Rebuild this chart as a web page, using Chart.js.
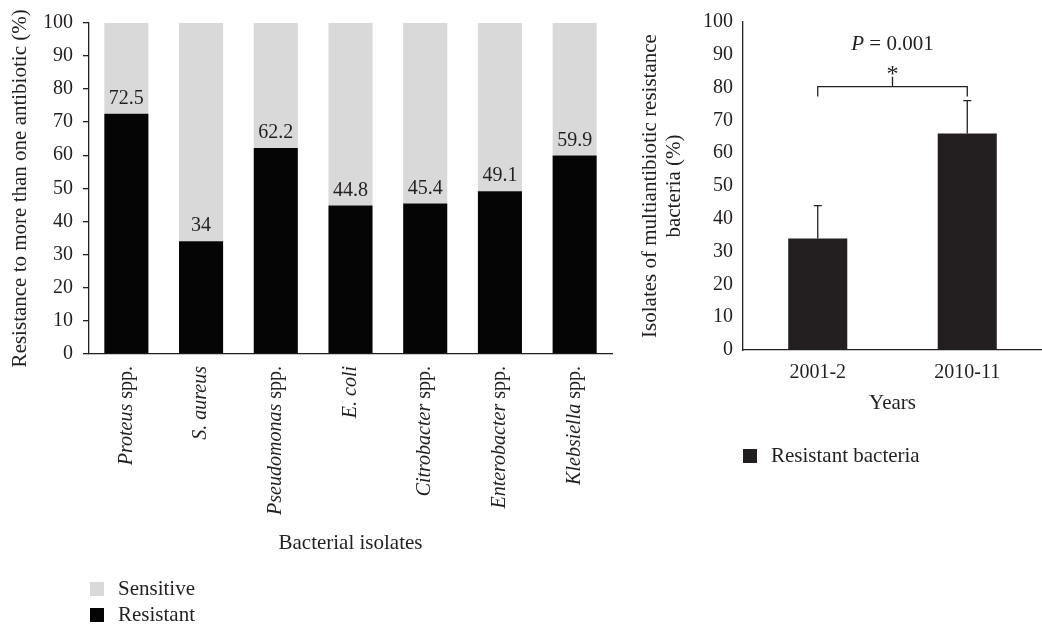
<!DOCTYPE html>
<html>
<head>
<meta charset="utf-8">
<script src="https://cdn.jsdelivr.net/npm/chart.js"></script>
<style>
  body { margin: 0; background: #fff; width: 1042px; height: 626px; position: relative; overflow: hidden; font-family: "Liberation Serif", serif; color: #231f20; }
  canvas { position: absolute; top: 0; }
  #left { left: 0; }
  #right { left: 630px; }
  .leg { position: absolute; font-size: 21px; line-height: 26px; white-space: nowrap; }
  .leg i { display: inline-block; width: 14px; height: 14px; vertical-align: -1px; margin-right: 14px; }
</style>
</head>
<body>
<canvas id="left" width="620" height="626"></canvas>
<canvas id="right" width="412" height="626"></canvas>
<div class="leg" style="left:90px; top:575px;"><i style="background:#d9d9d9"></i>Sensitive</div>
<div class="leg" style="left:90px; top:601px;"><i style="background:#050505"></i>Resistant</div>
<div class="leg" style="left:743px; top:442px;"><i style="background:#231f20"></i>Resistant bacteria</div>
<script>
// left chart: isolates resistant to more than one antibiotic
var isolates = ['Proteus spp.', 'S. aureus', 'Pseudomonas spp.', 'E. coli', 'Citrobacter spp.', 'Enterobacter spp.', 'Klebsiella spp.'];
var resistant = [72.5, 34, 62.2, 44.8, 45.4, 49.1, 59.9];
var sensitive = [27.5, 66, 37.8, 55.2, 54.6, 50.9, 40.1];

// right chart: multiantibiotic resistance by period
var years = ['2001-2', '2010-11'];
var resistantBacteria = [34, 66];
var resistantError = [10, 10];
var pValueText = '0.001';

var yTicks = [0, 10, 20, 30, 40, 50, 60, 70, 80, 90, 100];

var ink = '#231f20';
var serif = '"Liberation Serif", "Times New Roman", serif';

var barLabels = {
    id: 'barLabels',
    afterDatasetsDraw: (chart) => {
        const ctx = chart.ctx;
        const meta = chart.getDatasetMeta(0);
        ctx.save();
        ctx.fillStyle = ink;
        ctx.font = '20px ' + serif;
        ctx.textAlign = 'center';
        ctx.textBaseline = 'alphabetic';
        meta.data.forEach((bar, i) => {
            ctx.fillText(String(resistant[i]), bar.x, bar.y - 10);
        });
        ctx.restore();
    }
};

// category labels: genus in italics, "spp." upright
var isolateLabels = {
    id: 'isolateLabels',
    afterDraw: (chart) => {
        const ctx = chart.ctx;
        const xs = chart.scales.x;
        const top = chart.chartArea.bottom + 12;
        const it = 'italic 20px ' + serif;
        const up = '20px ' + serif;
        ctx.save();
        ctx.fillStyle = ink;
        ctx.textBaseline = 'middle';
        ctx.textAlign = 'left';
        isolates.forEach((name, i) => {
            let a = name, b = '';
            if (name.endsWith(' spp.')) {
                a = name.slice(0, -5);
                b = ' spp.';
            }
            ctx.font = it;
            const wa = ctx.measureText(a).width;
            ctx.font = up;
            const wb = ctx.measureText(b).width;
            ctx.save();
            ctx.translate(xs.getPixelForValue(i), top);
            ctx.rotate(-Math.PI / 2);
            ctx.font = it;
            ctx.fillText(a, -(wa + wb), 0);
            ctx.font = up;
            ctx.fillText(b, -wb, 0);
            ctx.restore();
        });
        ctx.restore();
    }
};

var chart_left = new Chart(document.getElementById('left'), {
    type: 'bar',
    data: {
        labels: isolates,
        datasets: [
            {
                label: 'Resistant',
                data: resistant,
                backgroundColor: '#050505',
                borderWidth: 0,
                barPercentage: 0.59,
                categoryPercentage: 1
            },
            {
                label: 'Sensitive',
                data: sensitive,
                backgroundColor: '#d9d9d9',
                borderWidth: 0,
                barPercentage: 0.59,
                categoryPercentage: 1
            }
        ]
    },
    options: {
        animation: false,
        responsive: false,
        layout: { padding: { left: 7.4, right: 8, top: 22.7, bottom: 70.4 } },
        plugins: {
            legend: { display: false },
            tooltip: { enabled: false }
        },
        scales: {
            x: {
                stacked: true,
                grid: { display: false },
                border: { display: true, color: ink, width: 1.3 },
                ticks: { display: false },
                title: {
                    display: true,
                    text: 'Bacterial isolates',
                    color: ink,
                    padding: 0,
                    font: { family: serif, size: 21, lineHeight: 1.2 }
                },
                afterFit: (s) => { s.height = 201.6; }
            },
            y: {
                stacked: true,
                min: 0,
                max: 100,
                afterBuildTicks: (s) => { s.ticks = yTicks.map(v => ({ value: v })); },
                ticks: { color: ink, padding: 10, font: { family: serif, size: 20 } },
                grid: { drawOnChartArea: false, drawTicks: true, tickLength: 6, color: ink, lineWidth: 1.3 },
                border: { display: true, color: ink, width: 1.3 },
                title: {
                    display: true,
                    text: 'Resistance to more than one antibiotic (%)',
                    color: ink,
                    padding: 0,
                    font: { family: serif, size: 21, lineHeight: 1.2 }
                },
                afterFit: (s) => { s.width = 81.6; }
            }
        }
    },
    plugins: [barLabels, isolateLabels]
});

// error bars, significance bracket and p value
var significance = {
    id: 'significance',
    afterDatasetsDraw: (chart) => {
        const ctx = chart.ctx;
        const xs = chart.scales.x, ys = chart.scales.y;
        ctx.save();
        ctx.strokeStyle = ink;
        ctx.fillStyle = ink;
        ctx.lineWidth = 1.3;
        resistantBacteria.forEach((v, i) => {
            const x = xs.getPixelForValue(i);
            const y0 = ys.getPixelForValue(v);
            const y1 = ys.getPixelForValue(v + resistantError[i]);
            ctx.beginPath();
            ctx.moveTo(x, y0);
            ctx.lineTo(x, y1);
            ctx.moveTo(x - 4, y1);
            ctx.lineTo(x + 4, y1);
            ctx.stroke();
        });
        const xa = xs.getPixelForValue(0), xb = xs.getPixelForValue(1);
        const xm = (xa + xb) / 2;
        const yLow = ys.getPixelForValue(77.3), yBar = ys.getPixelForValue(80.3), yTop = ys.getPixelForValue(83.3);
        ctx.beginPath();
        ctx.moveTo(xa, yLow);
        ctx.lineTo(xa, yBar);
        ctx.lineTo(xb, yBar);
        ctx.lineTo(xb, yLow);
        ctx.moveTo(xm, yBar);
        ctx.lineTo(xm, yTop);
        ctx.stroke();

        ctx.font = '24px ' + serif;
        ctx.textAlign = 'center';
        ctx.textBaseline = 'alphabetic';
        ctx.fillText('*', xm, ys.getPixelForValue(85.8) + 12);

        const it = 'italic 21px ' + serif, up = '21px ' + serif;
        const rest = ' = ' + pValueText;
        ctx.font = it;
        const wp = ctx.measureText('P').width;
        ctx.font = up;
        const wr = ctx.measureText(rest).width;
        const left = xm - (wp + wr) / 2;
        const yp = ys.getPixelForValue(93.2);
        ctx.textAlign = 'left';
        ctx.textBaseline = 'middle';
        ctx.font = it;
        ctx.fillText('P', left, yp);
        ctx.font = up;
        ctx.fillText(rest, left + wp, yp);
        ctx.restore();
    }
};

var chart_right = new Chart(document.getElementById('right'), {
    type: 'bar',
    data: {
        labels: years,
        datasets: [
            {
                label: 'Resistant bacteria',
                data: resistantBacteria,
                backgroundColor: ink,
                borderWidth: 0,
                barPercentage: 0.395,
                categoryPercentage: 1
            }
        ]
    },
    options: {
        animation: false,
        responsive: false,
        layout: { padding: { left: 8, right: 0, top: 18.3, bottom: 210.4 } },
        plugins: {
            legend: { display: false },
            tooltip: { enabled: false }
        },
        scales: {
            x: {
                grid: { display: false, drawTicks: false },
                border: { display: true, color: ink, width: 1.3 },
                ticks: { color: ink, padding: 11, font: { family: serif, size: 20, lineHeight: 1.2 } },
                title: {
                    display: true,
                    text: 'Years',
                    color: ink,
                    padding: 0,
                    font: { family: serif, size: 21, lineHeight: 1.2 }
                },
                afterFit: (s) => { s.height = 65.6; }
            },
            y: {
                min: 0,
                max: 100,
                afterBuildTicks: (s) => { s.ticks = yTicks.map(v => ({ value: v })); },
                ticks: { color: ink, padding: 10, font: { family: serif, size: 20 } },
                grid: { display: false, drawTicks: false },
                border: { display: true, color: ink, width: 1.3 },
                title: {
                    display: true,
                    text: ['Isolates of multiantibiotic resistance', 'bacteria (%)'],
                    color: ink,
                    padding: 0,
                    font: { family: serif, size: 21, lineHeight: 24 / 21 }
                },
                afterFit: (s) => { s.width = 105; }
            }
        }
    },
    plugins: [significance]
});
</script>
</body>
</html>
